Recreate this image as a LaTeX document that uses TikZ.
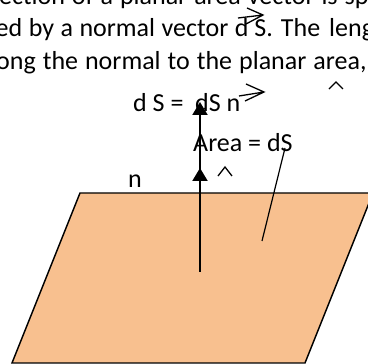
\documentclass[tikz,border=0pt]{standalone}
\usepackage{fontspec}
\setmainfont{Carlito}
\usetikzlibrary{arrows.meta}
\definecolor{planeorange}{RGB}{248,192,143}

\begin{document}
\begin{tikzpicture}[
    x=1pt, y=-1pt,
    txt/.style={anchor=base west, inner sep=0pt, font=\fontsize{26}{32}\selectfont},
    plane/.style={draw, line width=1.4pt, fill=planeorange, line join=miter},
    normal/.style={line width=2pt, -{Triangle[length=13pt, width=15pt]}},
    pen/.style={line width=1.3pt}
]
\clip (0,0) rectangle (368,364);

% text cut from the page (justified, so wide spaces)
\node[txt] (line1) at (-1,5) {\spaceskip=7pt ection of a planar area vector is sp};
\node[txt] (line2) at (-4.5,37) {\spaceskip=6.5pt ed by a normal vector d\hspace{6pt}S.\hspace{8pt}The\hspace{9pt}leng};
\node[txt] (line3) at (-4,70) {\spaceskip=7pt ong the normal to the planar area,};

% the planar area
\draw[plane] (80,193) -- (373,193) -- (305,363) -- (12,363) -- cycle;

% labels
\node[txt] (vec) at (133,112) {d S =\ \ dS n};
\node[txt] (area) at (193,152) {Area = dS};
\node[txt] (nlab) at (128,188) {n};

% normal vector
\coordinate (foot) at (200,272);
\coordinate (mid) at (200,168);
\coordinate (tip) at (200,102);
\draw[normal] (foot) -- (tip);
\draw[normal] (foot) -- (mid);

% pointer to the area
\coordinate (inplane) at (262,241);
\coordinate (atlabel) at (285,148);
\draw[line width=1.2pt] (inplane) -- (atlabel);

% vector arrows and hats
\draw[pen] (238,18) -- (263,15) (247,8) -- (263,15) -- (246,24);
\draw[pen] (239,96) -- (264,92) (246,84) -- (264,92) -- (245,101);
\draw[pen] (218,176) -- (225,167) -- (232,176);
\draw[pen] (329,89) -- (336,82) -- (343,89);
\end{tikzpicture}
\end{document}
